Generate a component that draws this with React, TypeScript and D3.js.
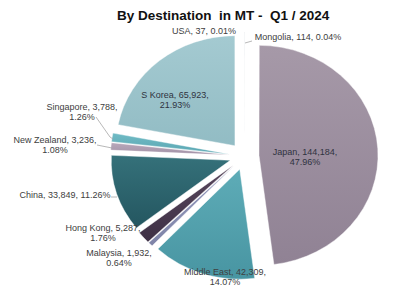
import React from "react";
import * as d3 from "d3";

const categories = ["Mongolia", "Japan", "Middle East", "Malaysia", "Hong Kong", "China", "New Zealand", "Singapore", "S Korea", "USA"];
const values = [114, 144184, 42309, 1932, 5287, 33849, 3236, 3788, 65923, 37];
const titleText = "By Destination  in MT -  Q1 / 2024";

// styles / layout (kept separate from data)
const topColors = ["#a79aa9", "#a699a8", "#5eacb7", "#959abd", "#58475d", "#35717a", "#b8a8bb", "#70bbc5", "#a4cad1", "#a4cad1"];
const bottomColors = ["#928596", "#908294", "#4895a2", "#7f84a8", "#3e3045", "#245660", "#a291a6", "#5aa6b2", "#92bcc4", "#92bcc4"];
// label anchor: [centerX, firstBaseline, twoLines]
const labelLayout: [number, number, boolean][] = [
  [298, 40, false],
  [305, 155, true],
  [225, 275, true],
  [119, 256, true],
  [103, 231, true],
  [65, 198, false],
  [55, 143, true],
  [82, 110, true],
  [175, 98, true],
  [204, 34, false],
];
const leaders: [number, number][][] = [
  [[245, 43], [252, 41]],
  [], [], [], [],
  [[111, 197], [117, 197]],
  [[97, 145], [112, 148]],
  [[96, 117], [110, 137], [113, 139]],
  [], [],
];

const cx = 244.3;
const cy = 156.2;
const r = 110;
const sx = 1.082;
const explode = 13.6;

export default function App() {
  const total = d3.sum(values);
  const pie = d3.pie<number>().sort(null).value((d) => d);
  const arcs = pie(values);
  const arcGen = d3.arc<d3.PieArcDatum<number>>().innerRadius(0).outerRadius(r);
  const fmt = d3.format(",");

  return (
    <svg width={404} height={290} style={{ position: "fixed", left: 0, top: 0, background: "#fff" }}
      fontFamily="'Liberation Sans', Arial, sans-serif">
      <defs>
        {arcs.map((a, i) => (
          <linearGradient key={i} id={`g${i}`} x1="0" y1="0" x2="0" y2="1">
            <stop offset="0" stopColor={topColors[i]} />
            <stop offset="1" stopColor={bottomColors[i]} />
          </linearGradient>
        ))}
      </defs>
      <text x={117} y={20} fontSize={13.5} fontWeight="bold" fill="#111" style={{ whiteSpace: "pre" }}>{titleText}</text>
      <g transform={`translate(${cx},${cy}) scale(${sx},1)`}>
        {arcs.map((a, i) => {
          const mid = (a.startAngle + a.endAngle) / 2;
          const dx = Math.sin(mid) * explode;
          const dy = -Math.cos(mid) * explode;
          return (
            <path key={i} d={arcGen(a) || ""} transform={`translate(${dx},${dy})`}
              fill={`url(#g${i})`} stroke="#fff" strokeWidth={0.4} strokeLinejoin="round" />
          );
        })}
      </g>
      {leaders.map((pts, i) => pts.length ? (
        <polyline key={i} points={pts.map((p) => p.join(",")).join(" ")} fill="none" stroke="#a6a6a6" strokeWidth={0.8} />
      ) : null)}
      {categories.map((c, i) => {
        const [lx, ly, two] = labelLayout[i];
        const pct = ((values[i] / total) * 100).toFixed(2) + "%";
        const inside = i === 1 || i === 8;
        const color = inside ? "#2f3340" : "#404040";
        const l1 = `${c}, ${fmt(values[i])},`;
        return two ? (
          <text key={i} fontSize={9} fill={color} textAnchor="middle" style={{ whiteSpace: "pre" }}>
            <tspan x={lx} y={ly}>{l1}</tspan>
            <tspan x={lx} y={ly + 9.8}>{pct}</tspan>
          </text>
        ) : (
          <text key={i} x={lx} y={ly} fontSize={9} fill={color} textAnchor="middle" style={{ whiteSpace: "pre" }}>
            {`${c}, ${fmt(values[i])}, ${pct}`}
          </text>
        );
      })}
    </svg>
  );
}
